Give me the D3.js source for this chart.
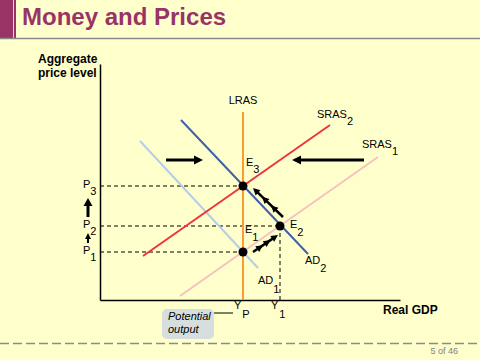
<!DOCTYPE html>
<html><head><meta charset="utf-8">
<script src="https://cdn.jsdelivr.net/npm/d3@7"></script>
<style>
html,body{margin:0;padding:0;background:#FFFFCC;}
svg{display:block;font-family:"Liberation Sans",Arial,sans-serif;}
</style>
</head><body>
<svg id="c" width="480" height="360"></svg>
<script>
// ---------- data ----------
const titleText = "Money and Prices";
const yAxisTitle = ["Aggregate", "price level"];
const xAxisTitle = "Real GDP";
const pageLabel = "5 of 46";
const calloutText = ["Potential", "output"];

const curveNames  = ["AD1", "AD2", "SRAS1", "SRAS2", "LRAS"];
const curveStartX = [40, 81, 80, 43, 143];
const curveStartY = [159, 180, 4, 44, 0];
const curveEndX   = [158, 208, 278, 230, 143];
const curveEndY   = [32, 46, 143, 175, 188];

const eqNames = ["E1", "E2", "E3"];
const eqX = [143, 180, 143];
const eqY = [48, 74, 114];

const priceNames  = ["P1", "P2", "P3"];
const priceValues = [48, 74, 114];
const outputNames  = ["YP", "Y1"];
const outputValues = [143, 180];

// shift arrows: [x0, y0, x1, y1]
const arrowNames = ["adShift", "srasShift", "priceUpBig", "priceUpSmall", "e1ToE2", "e2ToE3"];
const arrowX0 = [66, 264, -12, -12, 153, 183];
const arrowY0 = [140, 140, 83, 57, 48, 83];
const arrowX1 = [103, 192, -12, -12, 178, 153];
const arrowY1 = [140, 140, 102, 67, 65, 112];

// ---------- styles ----------
const curveColor = {AD1:"#B4CDEA", AD2:"#4060AA", SRAS1:"#F8C0C2", SRAS2:"#EE3344", LRAS:"#FF9933"};
const arrowStyle = {
  adShift:{w:3, len:9, half:4.5, heads:[1]},
  srasShift:{w:3, len:9, half:4.5, heads:[1]},
  priceUpBig:{w:3, len:8, half:4.5, heads:[1]},
  priceUpSmall:{w:2, len:6, half:3, heads:[1]},
  e1ToE2:{w:2.5, len:7, half:3.5, heads:[0.4,0.7,1]},
  e2ToE3:{w:2.5, len:7, half:3.5, heads:[0.4,0.7,1]}
};

const svg = d3.select("#c");
const x = d3.scaleLinear().domain([0, 300]).range([100, 400]);
const y = d3.scaleLinear().domain([0, 236]).range([300, 64]);

// ---------- header ----------
svg.append("rect").attr("x",0).attr("y",0).attr("width",16).attr("height",38).attr("fill","#993366");
svg.append("line").attr("x1",13.5).attr("x2",13.5).attr("y1",0).attr("y2",38).attr("stroke","#EFCFDF").attr("stroke-width",1);
svg.append("line").attr("x1",0).attr("x2",480).attr("y1",38.5).attr("y2",38.5).attr("stroke","#888").attr("stroke-width",1.5);
svg.append("text").attr("x",22).attr("y",25).attr("font-size",24).attr("font-weight","bold")
  .attr("fill","#993366").text(titleText);

// ---------- axes ----------
svg.append("g").attr("transform","translate(0,300)")
  .call(d3.axisBottom(x).tickValues([]).tickSizeOuter(0))
  .select(".domain").attr("stroke","#000").attr("stroke-width",1.5);
svg.append("g").attr("transform","translate(100,0)")
  .call(d3.axisLeft(y).tickValues([]).tickSizeOuter(0))
  .select(".domain").attr("stroke","#000").attr("stroke-width",1.5);

yAxisTitle.forEach((t,i)=>{
  svg.append("text").attr("x",38).attr("y",63+i*14).attr("font-size",12).attr("font-weight","bold").text(t);
});
svg.append("text").attr("x",383).attr("y",314).attr("font-size",12).attr("font-weight","bold").text(xAxisTitle);

// ---------- dashed guides ----------
const dash = svg.append("g").attr("stroke","#000").attr("stroke-width",1).attr("stroke-dasharray","4,3").attr("fill","none");
// P1 and P3 to LRAS, P2 to E2
[[priceValues[0], eqX[0]],[priceValues[1], eqX[1]],[priceValues[2], eqX[2]]].forEach(([p,ex])=>{
  dash.append("line").attr("x1",x(0)).attr("x2",x(ex)).attr("y1",y(p)).attr("y2",y(p));
});
dash.append("line").attr("x1",x(outputValues[1])).attr("x2",x(outputValues[1])).attr("y1",y(eqY[1])).attr("y2",y(0));

// ---------- curves ----------
const drawOrder = [0,4,2,3,1];
drawOrder.forEach(i=>{
  svg.append("line")
    .attr("x1",x(curveStartX[i])).attr("y1",y(curveStartY[i]))
    .attr("x2",x(curveEndX[i])).attr("y2",y(curveEndY[i]))
    .attr("stroke",curveColor[curveNames[i]]).attr("stroke-width",2);
});

// ---------- arrows ----------
arrowNames.forEach((n,i)=>{
  const s = arrowStyle[n];
  const x0=x(arrowX0[i]), y0=y(arrowY0[i]), x1=x(arrowX1[i]), y1=y(arrowY1[i]);
  const dx=x1-x0, dy=y1-y0, L=Math.hypot(dx,dy), ux=dx/L, uy=dy/L;
  svg.append("line").attr("x1",x0).attr("y1",y0).attr("x2",x1-ux*s.len*0.6).attr("y2",y1-uy*s.len*0.6)
    .attr("stroke","#000").attr("stroke-width",s.w);
  s.heads.forEach(t=>{
    const tx=x0+dx*t, ty=y0+dy*t;
    const bx=tx-ux*s.len, by=ty-uy*s.len;
    svg.append("path")
      .attr("d",`M${tx},${ty}L${bx-uy*s.half},${by+ux*s.half}L${bx+uy*s.half},${by-ux*s.half}Z`)
      .attr("fill","#000");
  });
});

// ---------- equilibrium points ----------
svg.selectAll("circle.eq").data(eqNames).enter().append("circle")
  .attr("cx",(d,i)=>x(eqX[i])).attr("cy",(d,i)=>y(eqY[i])).attr("r",4.5).attr("fill","#000");

// ---------- labels ----------
function subLabel(px, py, main, sub, size, subDx, subDy){
  const t = svg.append("text").attr("x",px).attr("y",py).attr("font-size",size).attr("fill","#000").text(main);
  const w = t.node().getComputedTextLength();
  svg.append("text").attr("x",px+w+(subDx||0)).attr("y",py+(subDy||7)).attr("font-size",size).attr("fill","#000").text(sub);
}
// LRAS
svg.append("text").attr("x",x(curveEndX[4])).attr("y",y(curveEndY[4])-8).attr("font-size",11)
  .attr("text-anchor","middle").text(curveNames[4]);
subLabel(x(curveEndX[3])-13, y(curveEndY[3])-7, "SRAS", "2", 11, 0, 7);
subLabel(x(curveEndX[2])-16, y(curveEndY[2])-9, "SRAS", "1", 11, 0, 7);
subLabel(x(curveEndX[1])-3, y(curveEndY[1])+10, "AD", "2", 11, 0, 8);
subLabel(x(curveEndX[0])+0, y(curveEndY[0])+16, "AD", "1", 11, 0, 9);
// equilibria
subLabel(x(eqX[2])+3, y(eqY[2])-20, "E", "3", 11, 0, 7);
subLabel(x(eqX[1])+10, y(eqY[1])+2, "E", "2", 11, 0, 8);
subLabel(x(eqX[0])+2, y(eqY[0])-19, "E", "1", 11, 0, 8);
// prices
priceNames.forEach((n,i)=>subLabel(83, y(priceValues[i])+2, n[0], n.slice(1), 11, 0, 7));
// outputs
outputNames.forEach((n,i)=>subLabel(x(outputValues[i])-9, 309, n[0], n.slice(1), 11, 1, 9));

// callout
svg.append("rect").attr("x",162).attr("y",309).attr("width",52).attr("height",30).attr("rx",5)
  .attr("fill","#D6DFDD");
calloutText.forEach((t,i)=>{
  svg.append("text").attr("x",168).attr("y",320+i*13).attr("font-size",11).attr("font-style","italic").text(t);
});
svg.append("line").attr("x1",214).attr("x2",x(outputValues[0])-10).attr("y1",313).attr("y2",313)
  .attr("stroke","#000").attr("stroke-width",1);

// footer
svg.append("line").attr("x1",0).attr("x2",480).attr("y1",343.5).attr("y2",343.5)
  .attr("stroke","#8a8a8a").attr("stroke-width",1.5).attr("stroke-dasharray","9,4");
svg.append("text").attr("x",458).attr("y",354).attr("text-anchor","end").attr("font-size",9)
  .attr("fill","#808080").text(pageLabel);
</script>
</body></html>
